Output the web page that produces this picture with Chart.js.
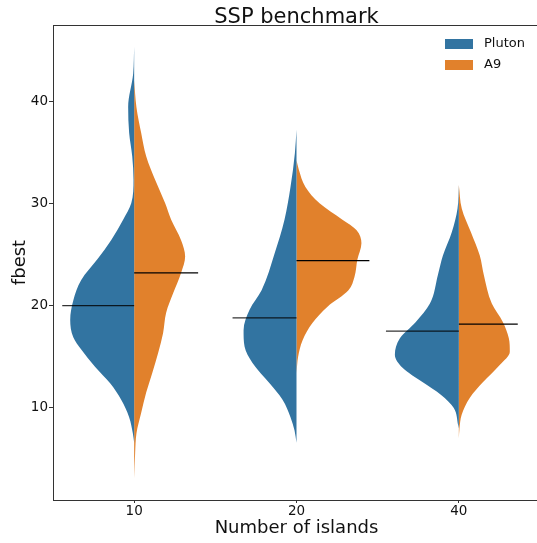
<!DOCTYPE html>
<html>
<head>
<meta charset="utf-8">
<script src="https://cdn.jsdelivr.net/npm/chart.js@4"></script>
<style>
    html, body { margin: 0; padding: 0; background: #fff; overflow: hidden; }
    #wrap { width: 541px; height: 543px; }
</style>
</head>
<body>
<div id="wrap"><canvas id="violinChart" width="541" height="543"></canvas></div>
<script>
// 카테고리 / 시리즈
const categories = ["10", "20", "40"];
const seriesNames = ["Pluton", "A9"];
const seriesColors = ["#3274a1", "#e1812c"];

// Pluton (왼쪽 반쪽) : fbest 레벨과 밀도 폭 (카테고리 단위)
const plutonLevels = [
    [45.3, 42.7, 39.4, 36.9, 34.6, 32.3, 30.0, 28.4, 26.4, 24.5, 22.5, 20.5, 18.6, 16.9, 15.7, 14.0, 12.4, 10.8, 9.1, 7.5, 6.6],
    [37.2, 34.9, 31.6, 28.4, 25.1, 21.5, 19.6, 17.6, 16.0, 14.4, 12.4, 10.8, 9.1, 7.8, 6.6],
    [31.8, 29.5, 27.2, 24.9, 23.0, 20.2, 18.4, 16.8, 15.2, 13.9, 12.5, 11.3, 10.0, 8.3, 8.0],
];
const plutonDensity = [
    [0, 0.006, 0.037, 0.031, 0.012, 0.004, 0.018, 0.068, 0.142, 0.228, 0.326, 0.375, 0.394, 0.375, 0.326, 0.240, 0.148, 0.080, 0.031, 0.008, 0],
    [0, 0.010, 0.037, 0.074, 0.135, 0.215, 0.289, 0.326, 0.320, 0.271, 0.166, 0.086, 0.037, 0.012, 0],
    [0, 0.008, 0.043, 0.098, 0.129, 0.178, 0.265, 0.363, 0.394, 0.345, 0.222, 0.111, 0.031, 0.004, 0],
];

// A9 (오른쪽 반쪽)
const a9Levels = [
    [42.0, 39.4, 36.9, 34.6, 32.3, 30.0, 28.4, 26.4, 24.8, 23.2, 21.2, 19.3, 17.3, 15.4, 13.4, 11.5, 9.5, 7.5, 5.6, 3.1],
    [34.2, 33.3, 31.6, 30.0, 28.4, 27.4, 26.1, 24.5, 22.8, 21.5, 19.9, 18.3, 16.6, 15.0, 13.4],
    [31.8, 29.5, 27.2, 24.9, 23.0, 20.2, 18.4, 16.8, 15.5, 14.2, 12.5, 11.0, 9.3, 8.0, 7.0],
];
const a9Density = [
    [0, 0.014, 0.043, 0.074, 0.129, 0.191, 0.228, 0.289, 0.314, 0.289, 0.240, 0.197, 0.178, 0.148, 0.111, 0.074, 0.043, 0.014, 0.006, 0],
    [0, 0.014, 0.055, 0.142, 0.283, 0.369, 0.400, 0.375, 0.357, 0.320, 0.191, 0.098, 0.037, 0.010, 0],
    [0, 0.018, 0.074, 0.129, 0.154, 0.203, 0.271, 0.308, 0.314, 0.252, 0.148, 0.068, 0.017, 0.004, 0],
];

// 중앙값 선
const plutonMedian = [20.0, 18.8, 17.5];
const a9Median = [23.2, 24.4, 18.2];
const plutonMedianSpan = [0.443, 0.394, 0.449];
const a9MedianSpan = [0.394, 0.449, 0.363];

// 반쪽 바이올린 데이터셋
function halfViolin(cat, levels, dens, side, color) {
    return {
        data: levels.map((y, i) => ({ x: cat + side * dens[i], y: y })),
        showLine: true,
        fill: "shape",
        backgroundColor: color,
        borderWidth: 0,
        borderColor: color,
        pointRadius: 0,
        cubicInterpolationMode: "monotone",
        order: 2,
    };
}

function medianLine(cat, value, span, side, color) {
    return {
        data: [{ x: cat, y: value }, { x: cat + side * span, y: value }],
        showLine: true,
        fill: false,
        borderColor: color,
        borderWidth: 1.3,
        pointRadius: 0,
        order: 0,
    };
}

const datasets = [];
categories.forEach((c, i) => {
    datasets.push(halfViolin(i, plutonLevels[i], plutonDensity[i], -1, seriesColors[0]));
    datasets.push(halfViolin(i, a9Levels[i], a9Density[i], 1, seriesColors[1]));
    datasets.push(medianLine(i, plutonMedian[i], plutonMedianSpan[i], -1, "rgba(0,0,0,0.8)"));
    datasets.push(medianLine(i, a9Median[i], a9MedianSpan[i], 1, "#000"));
});

// 제목, 위쪽 테두리, 범례
const extras = {
    id: "extras",
    afterDraw(chart) {
        const { ctx, chartArea } = chart;
        ctx.save();
        ctx.strokeStyle = "#333";
        ctx.lineWidth = 1;
        ctx.beginPath();
        ctx.moveTo(chartArea.left, chartArea.top + 0.5);
        ctx.lineTo(chartArea.right, chartArea.top + 0.5);
        ctx.moveTo(chartArea.right - 0.5, chartArea.top);
        ctx.lineTo(chartArea.right - 0.5, chartArea.bottom);
        ctx.stroke();
        // 제목
        ctx.fillStyle = "#111";
        ctx.font = "21px 'DejaVu Sans'";
        ctx.textAlign = "center";
        ctx.textBaseline = "alphabetic";
        ctx.fillText("SSP benchmark", (chartArea.left + chartArea.right) / 2, 22.5);
        // 범례
        ctx.font = "13px 'DejaVu Sans'";
        ctx.textAlign = "left";
        ctx.textBaseline = "middle";
        seriesNames.forEach((name, i) => {
            const y = 39 + i * 21;
            ctx.fillStyle = seriesColors[i];
            ctx.fillRect(445, y, 28, 10);
            ctx.fillStyle = "#111";
            ctx.fillText(name, 484, y + 5);
        });
        ctx.restore();
    },
};

const ctx = document.getElementById("violinChart").getContext("2d");
const chart = new Chart(ctx, {
    type: "scatter",
    data: { datasets: datasets },
    options: {
        responsive: false,
        animation: false,
        events: [],
        indexAxis: "y",
        layout: { padding: { top: 25, right: 1, left: 0, bottom: 0 } },
        plugins: { legend: { display: false }, tooltip: { enabled: false } },
        scales: {
            x: {
                type: "linear",
                axis: "x",
                position: "bottom",
                min: -0.5,
                max: 2.5,
                afterFit: (s) => { s.height = 43; },
                afterBuildTicks: (s) => { s.ticks = categories.map((c, i) => ({ value: i })); },
                ticks: {
                    callback: (v) => categories[v],
                    font: { family: "DejaVu Sans", size: 13.5 },
                    color: "#111",
                    padding: 0,
                    maxRotation: 0,
                },
                grid: { display: true, drawOnChartArea: false, drawTicks: true, tickLength: 3, color: "#333" },
                border: { display: true, color: "#333", width: 1 },
                title: {
                    display: true,
                    text: "Number of islands",
                    font: { family: "DejaVu Sans", size: 18 },
                    color: "#111",
                    padding: { top: 0, bottom: 4 },
                },
            },
            y: {
                type: "linear",
                axis: "y",
                position: "left",
                min: 1.0,
                max: 47.43,
                afterFit: (s) => { s.width = 53; },
                afterBuildTicks: (s) => { s.ticks = [10, 20, 30, 40].map((v) => ({ value: v })); },
                ticks: {
                    font: { family: "DejaVu Sans", size: 13.5 },
                    color: "#111",
                    padding: 1,
                },
                grid: { display: true, drawOnChartArea: false, drawTicks: true, tickLength: 4, color: "#333" },
                border: { display: true, color: "#333", width: 1 },
                title: {
                    display: true,
                    text: "fbest",
                    font: { family: "DejaVu Sans", size: 18 },
                    color: "#111",
                    padding: { top: 10, bottom: 0 },
                },
            },
        },
    },
    plugins: [extras],
});
</script>
</body>
</html>
